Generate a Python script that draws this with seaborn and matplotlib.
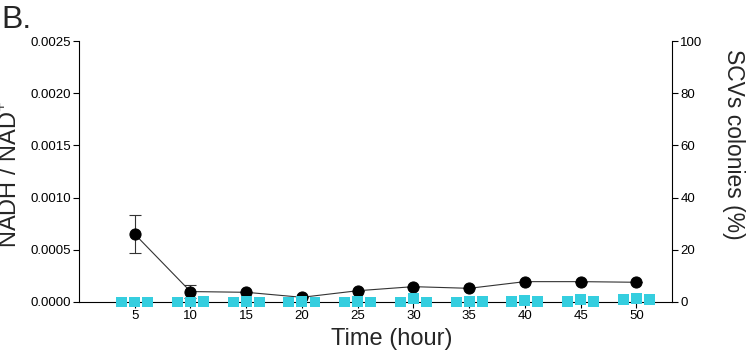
import numpy as np
import pandas as pd
import matplotlib
matplotlib.use("Agg")
import matplotlib.pyplot as plt
import seaborn as sns

# ---- data ----
time_h = [5, 10, 15, 20, 25, 30, 35, 40, 45, 50]
nadh_ratio = [0.00065, 0.00010, 0.000093, 0.000045, 0.000108,
              0.000147, 0.000131, 0.000195, 0.000195, 0.000189]
nadh_err = [0.00018, 0.00006, 0, 0, 0, 0, 0, 0, 0, 0]
scv_rep1 = [0.0, 0.0, 0.0, 0.0, 0.0, 0.0, 0.0, 0.3, 0.3, 0.8]
scv_rep2 = [0.0, 0.0, 0.3, 0.3, 0.3, 1.2, 0.3, 0.5, 1.0, 1.5]
scv_rep3 = [0.0, 0.3, 0.0, 0.0, 0.0, 0.0, 0.3, 0.3, 0.3, 0.8]
left_ticks = [0.0, 0.0005, 0.0010, 0.0015, 0.0020, 0.0025]
right_ticks = [0, 20, 40, 60, 80, 100]

sns.set_theme(style="ticks")
plt.rcParams["font.family"] = ["Liberation Sans", "DejaVu Sans"]
plt.rcParams["mathtext.fontset"] = "custom"
plt.rcParams["mathtext.rm"] = "Liberation Sans"

fig = plt.figure(figsize=(7.47, 3.51), dpi=100)
ax = fig.add_axes([79 / 747, 49 / 351, 593 / 747, 261 / 351])

line_col = "#333333"
ax.errorbar(time_h, nadh_ratio, yerr=nadh_err, fmt="none", ecolor=line_col,
            elinewidth=0.8, capsize=4, capthick=0.8, zorder=2)
sns.lineplot(x=time_h, y=nadh_ratio, ax=ax, color=line_col, linewidth=0.8,
             marker="o", markersize=8, markerfacecolor="black",
             markeredgecolor="black", zorder=3)

ax.set_xlim(0, 53.2)
ax.set_ylim(0, 0.0025)
ax.set_xticks(time_h)
ax.set_xticklabels([str(t) for t in time_h])
ax.set_yticks(left_ticks)
ax.set_yticklabels([f"{v:.4f}" for v in left_ticks])
for s in ["top", "right"]:
    ax.spines[s].set_visible(False)
for s in ["left", "bottom"]:
    ax.spines[s].set_color("black")
    ax.spines[s].set_linewidth(0.8)
ax.tick_params(axis="both", direction="out", length=4, width=0.8,
               labelsize=9.5, colors="black", pad=2)
ax.set_xlabel("Time (hour)", fontsize=17)
ax.xaxis.set_label_coords(0.527, -0.10)
ax.set_ylabel(r"NADH / NAD$^\mathregular{+}$", fontsize=17)
ax.yaxis.set_label_coords(-0.096, 0.49)

# ---- right axis: SCVs ----
ax2 = ax.twinx()
offsets = [-1.17, 0.0, 1.17]
rows = []
for off, rep in zip(offsets, [scv_rep1, scv_rep2, scv_rep3]):
    for t, v in zip(time_h, rep):
        rows.append({"x": t + off, "scv": v})
df = pd.DataFrame(rows)
sns.scatterplot(data=df, x="x", y="scv", ax=ax2, marker="s", s=62,
                color="#35CEDF", edgecolor="none", zorder=4, clip_on=False)
ax2.set_ylim(0, 100)
ax2.set_yticks(right_ticks)
ax2.set_yticklabels([str(v) for v in right_ticks])
for s in ["top", "left", "bottom"]:
    ax2.spines[s].set_visible(False)
ax2.spines["right"].set_color("black")
ax2.spines["right"].set_linewidth(0.8)
ax2.tick_params(axis="y", direction="out", length=4, width=0.8,
                labelsize=9.5, colors="black", pad=2)
ax2.set_xlabel("")
ax2.set_ylabel("SCVs colonies (%)", fontsize=16.5, rotation=270, va="bottom")
ax2.yaxis.set_label_coords(1.084, 0.605)
ax.set_xlim(0, 53.2)

fig.text(0.002, 1 - 28 / 351, "B.", fontsize=23, va="baseline", ha="left")

fig.savefig("out.png", dpi=100)
